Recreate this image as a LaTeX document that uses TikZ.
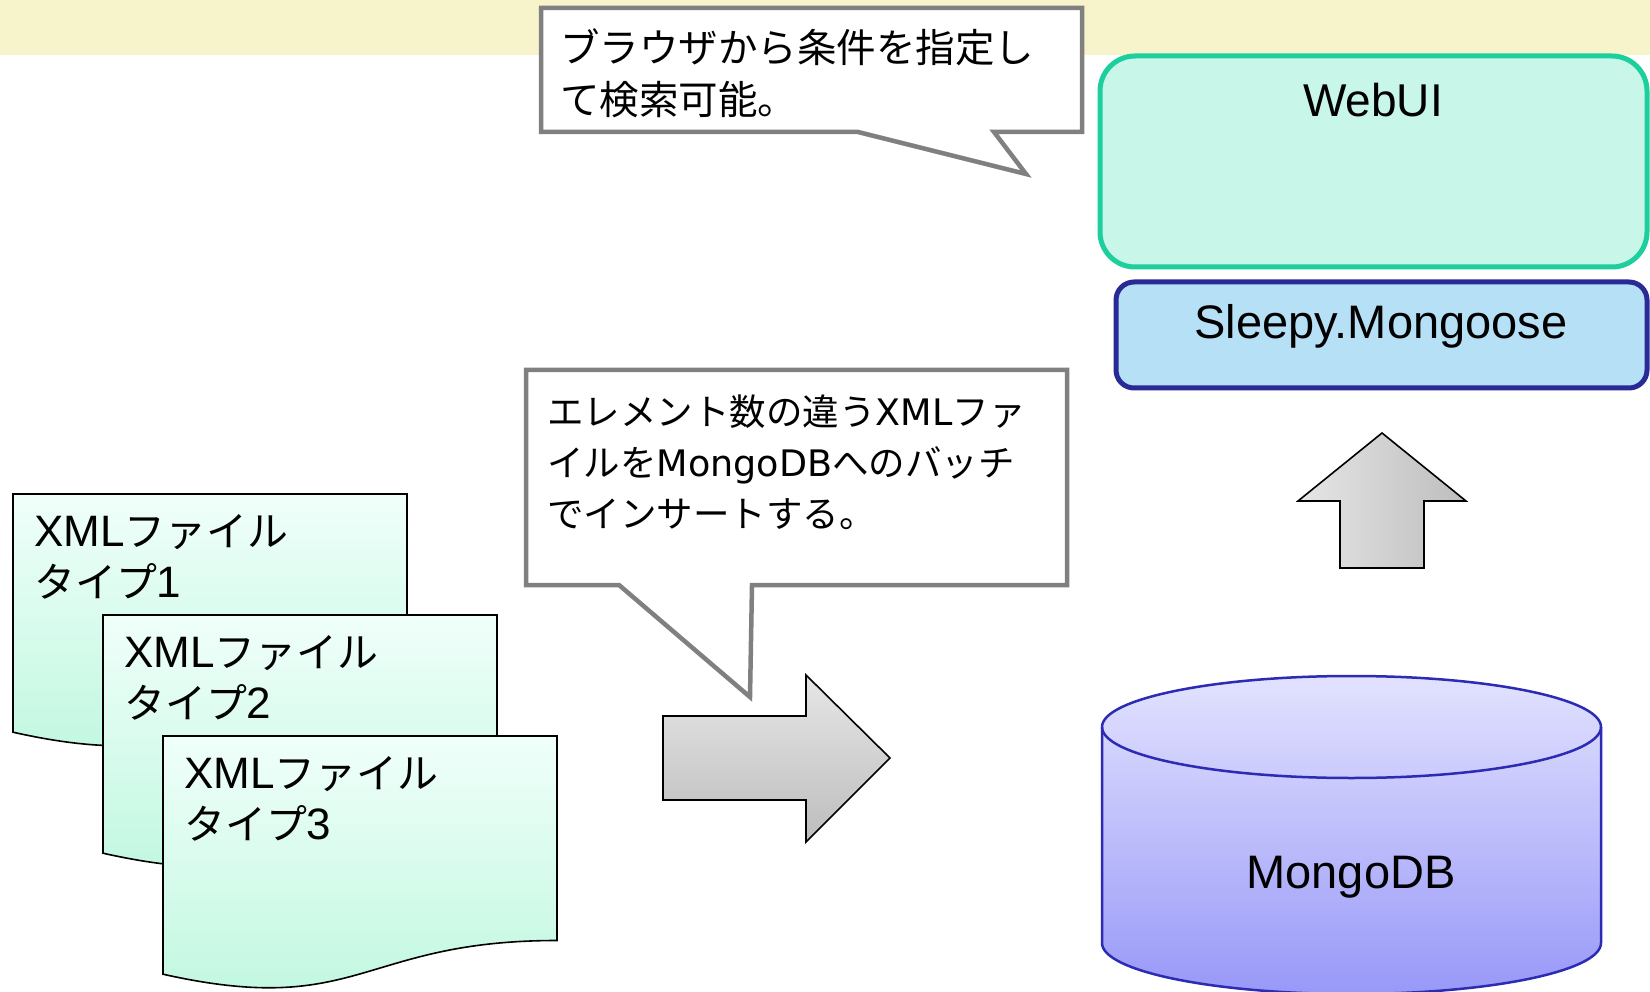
\documentclass[tikz,border=0pt]{standalone}
\usepackage{fontspec}
\setmainfont{Liberation Sans}
\newfontfamily\jp{Noto Sans CJK JP}
\newfontfamily\jps{Noto Sans CJK JP}[Scale=0.93]
\newfontfamily\dv{DejaVu Sans}
\definecolor{bandc}{HTML}{F7F3CA}
\definecolor{calloutgray}{HTML}{808080}
\definecolor{webborder}{HTML}{1CCF9C}
\definecolor{webfill}{HTML}{C8F7E9}
\definecolor{slborder}{HTML}{2A2A96}
\definecolor{slfill}{HTML}{B6E0F5}
\definecolor{docTop}{HTML}{F0FFFA}
\definecolor{docBot}{HTML}{BDF7DE}
\definecolor{cylTop}{HTML}{E2E2FF}
\definecolor{cylBot}{HTML}{9898F8}
\definecolor{cylBorder}{HTML}{2B2BB3}
\definecolor{arrLight}{HTML}{E6E6E6}
\definecolor{arrDark}{HTML}{BDBDBD}
\begin{document}
\begin{tikzpicture}[x=1pt,y=-1pt,
  callout/.style={draw=calloutgray, line width=4.5pt, fill=white, line join=miter},
  docshape/.style={draw=black, line width=1.6pt, top color=docTop, bottom color=docBot},
  blockarrow/.style={draw=black, line width=1.6pt, line join=miter},
  doctext/.style={anchor=base west, inner sep=0pt, align=left, font=\fontsize{44}{51}\selectfont},
  boxtext/.style={anchor=base, inner sep=0pt, font=\fontsize{46}{50}\selectfont}]
\useasboundingbox (0,0) rectangle (1650,992);
\fill[white] (0,0) rectangle (1650,992);
% top band
\fill[bandc] (0,0) rectangle (1650,55);
% callout 1
\path[callout] (541,8) -- (1082,8) -- (1082,132) -- (994,132) -- (1026,174) -- (858,132) -- (541,132) -- cycle;
\node[anchor=base west, inner sep=0pt, align=left, font=\jp\fontsize{39.5}{52}\selectfont] (c1text) at (560,115)
  {ブラウザから条件を指定し\\て検索可能。};
% WebUI box
\draw[draw=webborder, line width=5pt, fill=webfill, rounded corners=35pt] (1100,56) rectangle (1647,267);
\node[boxtext] (webui) at (1373,117) {WebUI};
% Sleepy.Mongoose box
\draw[draw=slborder, line width=5pt, fill=slfill, rounded corners=18pt] (1116,282) rectangle (1647,388);
\node[boxtext, font=\fontsize{47}{50}\selectfont] (sleepy) at (1381,339) {Sleepy.Mongoose};
% up arrow
\path[blockarrow, left color=arrLight, right color=arrDark] (1382,433) -- (1466,501) -- (1424,501) -- (1424,568) -- (1340,568) -- (1340,501) -- (1298,501) -- cycle;
% callout 2
\path[callout] (526,370) -- (1067,370) -- (1067,585) -- (752,585) -- (750,697) -- (619,585) -- (526,585) -- cycle;
\node[anchor=base west, inner sep=0pt, align=left, font=\jp\fontsize{36.5}{51}\selectfont] (c2text) at (547,527)
  {エレメント数の違う{\dv XML}ファ\\イルを{\dv MongoDB}へのバッチ\\でインサートする。};
% right arrow
\path[blockarrow, top color=arrLight, bottom color=arrDark] (663,716) -- (806,716) -- (806,675) -- (890,758) -- (806,842) -- (806,800) -- (663,800) -- cycle;
% documents
\path[docshape] (13,494) -- (407,494) -- (407,698.5) .. controls (210,698.5) and (210,776.4) .. (13,732.2) -- cycle;
\node[doctext] (doc1) at (34,597) {XML{\jps ファイル}\\{\jps タイプ}1};
\path[docshape] (103,615) -- (497,615) -- (497,819.5) .. controls (300,819.5) and (300,897.4) .. (103,853.2) -- cycle;
\node[doctext] (doc2) at (124,718) {XML{\jps ファイル}\\{\jps タイプ}2};
\path[docshape] (163,736) -- (557,736) -- (557,940.5) .. controls (360,940.5) and (360,1018.4) .. (163,974.2) -- cycle;
\node[doctext] (doc3) at (184,839) {XML{\jps ファイル}\\{\jps タイプ}3};
% cylinder
\path[draw=cylBorder, line width=2.5pt, top color=cylTop, bottom color=cylBot]
  (1102,727) -- (1102,943) arc[start angle=180, end angle=360, x radius=249.5pt, y radius=51pt]
  -- (1601,727) arc[start angle=0, end angle=180, x radius=249.5pt, y radius=51pt] -- cycle;
\draw[draw=cylBorder, line width=2.5pt] (1102,727) arc[start angle=180, end angle=360, x radius=249.5pt, y radius=51pt];
\node[boxtext, font=\fontsize{47}{50}\selectfont] (mongo) at (1351,888) {MongoDB};
\end{tikzpicture}
\end{document}
